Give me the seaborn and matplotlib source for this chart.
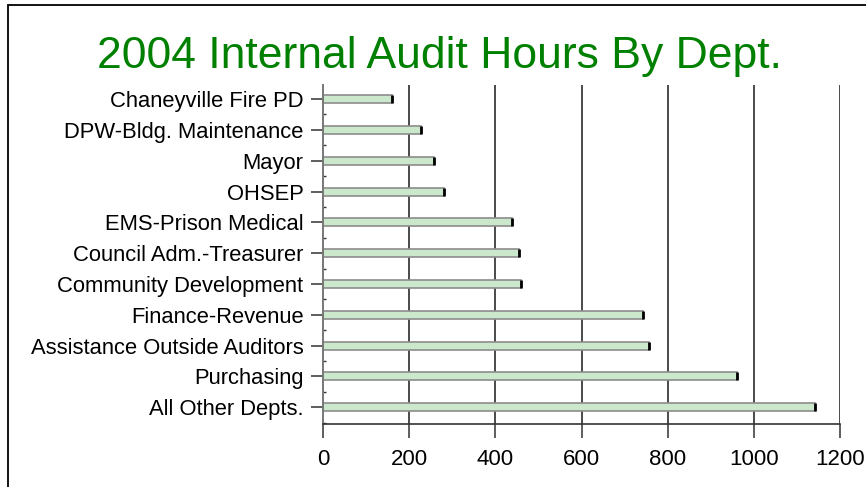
import matplotlib
matplotlib.use('Agg')
import matplotlib.pyplot as plt
import seaborn as sns
import pandas as pd
from matplotlib.patches import Rectangle
from matplotlib.ticker import MultipleLocator

sns.set_theme(style='white')
plt.rcParams['font.family'] = ['Liberation Sans', 'DejaVu Sans']

# --- Data ---
depts = ['Chaneyville Fire PD', 'DPW-Bldg. Maintenance', 'Mayor', 'OHSEP',
         'EMS-Prison Medical', 'Council Adm.-Treasurer', 'Community Development',
         'Finance-Revenue', 'Assistance Outside Auditors', 'Purchasing',
         'All Other Depts.']
hours = [159, 228, 257, 280, 438, 454, 460, 743, 756, 962, 1143]
x_ticks = [0, 200, 400, 600, 800, 1000, 1200]

df = pd.DataFrame({'Dept': depts, 'Hours': hours})

fig = plt.figure(figsize=(8.66, 4.87), dpi=100)
ax = fig.add_axes([0.373, 0.129, 0.597, 0.696])

sns.barplot(data=df, x='Hours', y='Dept', orient='h', ax=ax, width=0.26,
            color='#cce8cc', edgecolor='#8c8c8c', linewidth=1.2, saturation=1)

# dark cap on the end of each bar
for p in ax.patches:
    xe = p.get_x() + p.get_width()
    ax.plot([xe, xe], [p.get_y(), p.get_y() + p.get_height()],
            color='black', lw=2, solid_capstyle='butt', zorder=4)

ax.set_xlim(0, 1200)
ax.set_ylim(len(depts) - 0.45, -0.45)
ax.set_xticks(x_ticks)
ax.set_xlabel('')
ax.set_ylabel('')

# vertical grid
ax.grid(False)
for xv in x_ticks[1:]:
    ax.axvline(xv, color='#4a4a4a', lw=1.4, zorder=0)

for side in ['top', 'right']:
    ax.spines[side].set_visible(False)
ax.spines['left'].set_color('#777777')
ax.spines['left'].set_linewidth(1.4)
ax.spines['bottom'].set_color('#333333')
ax.spines['bottom'].set_linewidth(1.2)

ax.yaxis.set_minor_locator(MultipleLocator(1, offset=0.5))
ax.tick_params(axis='y', which='major', left=True, length=9, width=1.1,
               color='#333333', pad=5, labelsize=15.8, labelcolor='black')
ax.tick_params(axis='y', which='minor', left=True, direction='in', length=2,
               width=1, color='#333333')
ax.tick_params(axis='x', which='major', bottom=True, length=10, width=1.1,
               color='#333333', pad=8, labelsize=16, labelcolor='black')

fig.text(0.507, 0.861, '2004 Internal Audit Hours By Dept.', color='#008000',
         fontsize=32, ha='center', va='baseline')

# outer frame
fig.patches.append(Rectangle((0.0092, -0.1), 1.2, 1.09, transform=fig.transFigure,
                             fill=False, edgecolor='black', lw=1.3))

fig.savefig('out.png', dpi=100)
